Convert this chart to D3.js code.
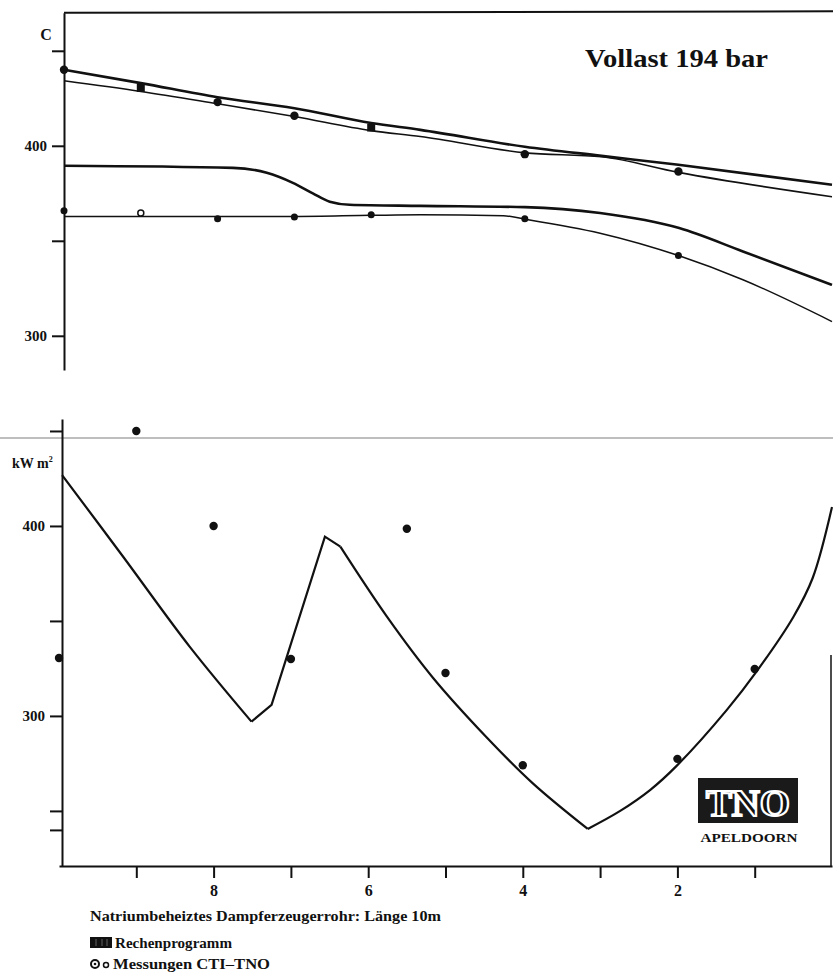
<!DOCTYPE html>
<html>
<head>
<meta charset="utf-8">
<script src="https://cdn.jsdelivr.net/npm/d3@7"></script>
<style>
  html, body { margin: 0; padding: 0; background: #fff; }
  svg { display: block; }
  text { font-family: "Liberation Serif", "DejaVu Serif", serif; font-weight: bold; fill: #111; }
</style>
</head>
<body>
<svg id="chart" width="833" height="973"></svg>
<script>
// ---------- data ----------
const title = "Vollast 194 bar";
const tempUnit = "C";
const fluxUnit = "kW m";
const caption = "Natriumbeheiztes Dampferzeugerrohr: Länge 10m";
const legendCalc = "Rechenprogramm";
const legendMeas = "Messungen CTI–TNO";
const logoText = "TNO";
const logoCity = "APELDOORN";

// position along tube (m)
const xTickValues = [9, 8, 7, 6, 5, 4, 3, 2, 1];
const xTickLabels = [8, 6, 4, 2];

// temperature panel (°C)
const tempTickValues = [450, 400, 350, 300];
const tempTickLabels = [400, 300];
const tempUpperCalc = [[10,440],[9,433],[8,425.6],[7,419.8],[6,412],[5.36,408.4],[4,399.5],[3,394.7],[2,390],[0,379.5]];
const tempUpperCalc2 = [[10,434.2],[9,428.6],[8,422.1],[7,415.4],[6,408],[5.36,404.9],[4,396.3],[3,394.2],[2,386],[0,373.2]];
const tempMiddleCalc = [[10,389.5],[7.8,388.4],[7.36,385.8],[7.02,380.5],[6.76,375],[6.54,370.6],[6.28,369],[5.36,368.4],[4,367.7],[3.02,364.6],[1.99,356.7],[1.16,344.4],[0,326.8]];
const tempLowerCalc = [[10,362.8],[7,362.8],[6,363.4],[5.36,363.7],[4.28,363.2],[4,361.4],[3.02,354],[1.99,342.1],[1.16,329.5],[0,307.5]];
const tempUpperMeas = [[10,440],[8,423],[7,415.8],[4,395.6],[2,386.5]];
const tempUpperProg = [[9,430.5],[6,409.6]];
const tempLowerMeas = [[10,365.8],[8,361.6],[7,362.5],[6,363.7],[4,361.6],[2,342.3]];
const tempLowerMeasOpen = [[9,364.6]];

// heat flux panel (kW/m²)
const fluxTickValues = [450, 400, 350, 300, 250, 240];
const fluxTickLabels = [400, 300];
const fluxCalcSeg1 = [[9.96,426.8],[9.17,383.8],[8.31,336.5],[7.51,297]];
const fluxCalcSeg2 = [[7.51,297],[7.25,305.8],[6.56,394.4],[6.36,389.1]];
const fluxCalcSeg3 = [[6.36,389.1],[5.76,352.4],[5.16,320],[4.46,288.4],[3.87,264.5],[3.16,240.5]];
const fluxCalcSeg4 = [[3.16,240.5],[2.74,250],[2.35,261.1],[2.01,273.7],[1.36,303.2],[0.97,323.7],[0.5,352.1],[0.25,372.6],[0,410]];
const fluxMeas = [[10,330.5],[9,450],[8,400],[7,330],[5.5,398.5],[5,322.6],[4,274],[2,277.4],[1,324.7]];

// ---------- drawing ----------
const svg = d3.select("#chart");
const ink = "#111";

const xTop = d3.scaleLinear().domain([10, 0]).range([64, 832]);
const xBot = d3.scaleLinear().domain([10, 0]).range([59, 832]);
const yTop = d3.scaleLinear().domain([282, 470]).range([370, 12.8]);
const yBot = d3.scaleLinear().domain([221, 456.3]).range([866, 419]);

// scan artefact line
svg.append("line").attr("x1", 0).attr("x2", 833).attr("y1", 438).attr("y2", 438)
  .attr("stroke", "#a8a8a8").attr("stroke-width", 1.5);

// ---- top panel axes ----
const gTopAxis = svg.append("g").attr("transform", `translate(${xTop(10)},0)`)
  .call(d3.axisLeft(yTop).tickValues(tempTickValues).tickSize(12).tickSizeOuter(0).tickPadding(5)
    .tickFormat(d => tempTickLabels.includes(d) ? d : ""));
gTopAxis.selectAll("path,line").attr("stroke", ink).attr("stroke-width", 2);
gTopAxis.selectAll("text").attr("font-size", 15).attr("font-family", "Liberation Serif").attr("font-weight", "bold").attr("fill", ink);

svg.append("line").attr("x1", xTop(10)).attr("x2", 833).attr("y1", yTop(470)).attr("y2", yTop(470) - 1.5)
  .attr("stroke", ink).attr("stroke-width", 2);

svg.append("text").attr("x", 46).attr("y", 40).attr("text-anchor", "middle").attr("font-size", 16).text(tempUnit);

svg.append("text").attr("x", 585).attr("y", 67).attr("font-size", 26)
  .attr("textLength", 183).attr("lengthAdjust", "spacingAndGlyphs").text(title);

// ---- top curves ----
const lineTop = d3.line().x(d => xTop(d[0])).y(d => yTop(d[1])).curve(d3.curveMonotoneX);
[[tempUpperCalc, 2.6], [tempUpperCalc2, 1.6], [tempMiddleCalc, 2.6], [tempLowerCalc, 1.5]].forEach(([data, w]) => {
  svg.append("path").datum(data).attr("d", lineTop).attr("fill", "none").attr("stroke", ink).attr("stroke-width", w);
});

svg.append("g").selectAll("circle").data(tempUpperMeas).join("circle")
  .attr("cx", d => xTop(d[0])).attr("cy", d => yTop(d[1])).attr("r", 4.2).attr("fill", ink);
svg.append("g").selectAll("rect").data(tempUpperProg).join("rect")
  .attr("x", d => xTop(d[0]) - 4).attr("y", d => yTop(d[1]) - 4).attr("width", 8).attr("height", 8).attr("fill", ink);
svg.append("g").selectAll("circle").data(tempLowerMeas).join("circle")
  .attr("cx", d => xTop(d[0])).attr("cy", d => yTop(d[1])).attr("r", 3.5).attr("fill", ink);
svg.append("g").selectAll("circle").data(tempLowerMeasOpen).join("circle")
  .attr("cx", d => xTop(d[0])).attr("cy", d => yTop(d[1])).attr("r", 3).attr("fill", "#fff")
  .attr("stroke", ink).attr("stroke-width", 1.5);

// ---- bottom panel axes ----
const gBotLeft = svg.append("g").attr("transform", `translate(62,0)`)
  .call(d3.axisLeft(yBot).tickValues(fluxTickValues).tickSize(12).tickSizeOuter(0).tickPadding(5)
    .tickFormat(d => fluxTickLabels.includes(d) ? d : ""));
gBotLeft.selectAll("path,line").attr("stroke", ink).attr("stroke-width", 2);
gBotLeft.selectAll("text").attr("font-size", 15).attr("font-family", "Liberation Serif").attr("font-weight", "bold").attr("fill", ink);

const gBotX = svg.append("g").attr("transform", `translate(0,${yBot(221)})`)
  .call(d3.axisBottom(xBot).tickValues(xTickValues).tickSize(12).tickSizeOuter(0).tickPadding(7)
    .tickFormat(d => xTickLabels.includes(d) ? d : ""));
gBotX.selectAll("path,line").attr("stroke", ink).attr("stroke-width", 2);
gBotX.selectAll("text").attr("font-size", 16).attr("font-family", "Liberation Serif").attr("font-weight", "bold").attr("fill", ink);

// right border of lower panel
svg.append("line").attr("x1", xBot(0) - 1).attr("x2", xBot(0) - 1).attr("y1", 655).attr("y2", yBot(221))
  .attr("stroke", ink).attr("stroke-width", 1.5);

const unitG = svg.append("text").attr("x", 12).attr("y", 468).attr("font-size", 14);
unitG.append("tspan").text(fluxUnit);
unitG.append("tspan").attr("dy", -6).attr("font-size", 8).text("2");

// ---- bottom curve ----
const lineBotSmooth = d3.line().x(d => xBot(d[0])).y(d => yBot(d[1])).curve(d3.curveCatmullRom.alpha(0.5));
const lineBotLinear = d3.line().x(d => xBot(d[0])).y(d => yBot(d[1]));
[[fluxCalcSeg1, lineBotSmooth], [fluxCalcSeg2, lineBotLinear], [fluxCalcSeg3, lineBotSmooth], [fluxCalcSeg4, lineBotSmooth]]
  .forEach(([data, gen]) => {
    svg.append("path").datum(data).attr("d", gen).attr("fill", "none").attr("stroke", ink)
      .attr("stroke-width", 2.2).attr("stroke-linejoin", "miter");
  });

svg.append("g").selectAll("circle").data(fluxMeas).join("circle")
  .attr("cx", d => xBot(d[0])).attr("cy", d => yBot(d[1])).attr("r", 4.2).attr("fill", ink);

// ---- TNO logo ----
svg.append("rect").attr("x", 698).attr("y", 778).attr("width", 100).attr("height", 45).attr("fill", "#1a1a1a");
svg.append("text").attr("x", 748).attr("y", 816).attr("text-anchor", "middle")
  .attr("font-family", "Liberation Sans").attr("font-size", 38).attr("font-weight", "bold")
  .attr("textLength", 84).attr("lengthAdjust", "spacingAndGlyphs")
  .style("fill", "#111").attr("stroke", "#fff").attr("stroke-width", 2.2).text(logoText);
svg.append("text").attr("x", 749).attr("y", 842).attr("text-anchor", "middle").attr("font-size", 12)
  .attr("textLength", 97).attr("lengthAdjust", "spacingAndGlyphs").text(logoCity);

// ---- caption / legend ----
svg.append("text").attr("x", 90).attr("y", 921).attr("font-size", 15)
  .attr("textLength", 351).attr("lengthAdjust", "spacingAndGlyphs").text(caption);

const blk = svg.append("g");
blk.append("rect").attr("x", 90).attr("y", 937).attr("width", 22).attr("height", 11).attr("fill", ink);
[96, 102, 107].forEach(x => blk.append("line").attr("x1", x).attr("x2", x).attr("y1", 939).attr("y2", 946)
  .attr("stroke", "#777").attr("stroke-width", 0.8));
svg.append("text").attr("x", 115).attr("y", 948).attr("font-size", 15)
  .attr("textLength", 117).attr("lengthAdjust", "spacingAndGlyphs").text(legendCalc);

svg.append("circle").attr("cx", 95).attr("cy", 964).attr("r", 4).attr("fill", "#fff").attr("stroke", ink).attr("stroke-width", 2);
svg.append("circle").attr("cx", 95).attr("cy", 964).attr("r", 1.3).attr("fill", ink);
svg.append("circle").attr("cx", 106).attr("cy", 965).attr("r", 2.5).attr("fill", "#fff").attr("stroke", ink).attr("stroke-width", 1.5);
svg.append("text").attr("x", 113).attr("y", 969).attr("font-size", 15)
  .attr("textLength", 157).attr("lengthAdjust", "spacingAndGlyphs").text(legendMeas);
</script>
</body>
</html>
